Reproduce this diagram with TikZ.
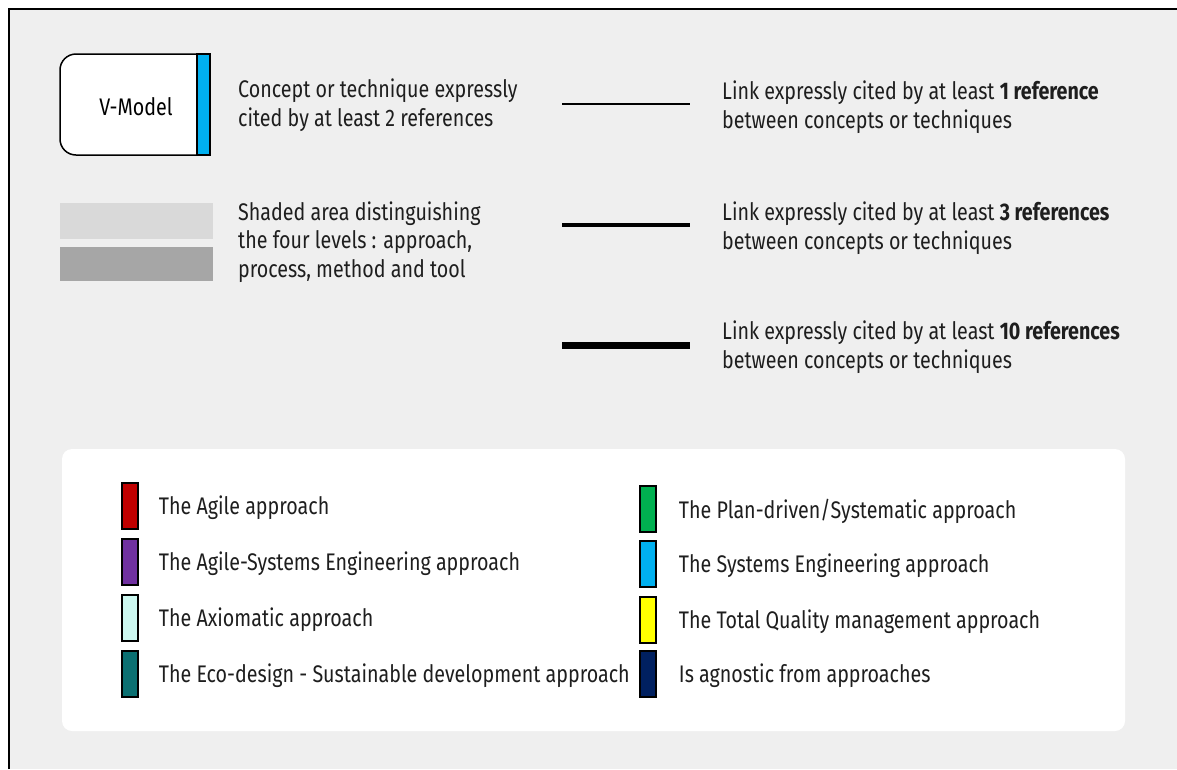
\documentclass[tikz,border=0pt]{standalone}
\usepackage{fontspec}
\setmainfont{Fira Sans}[FakeStretch=0.82]
\usepackage{xcolor}
\usetikzlibrary{positioning}

\definecolor{bggray}{HTML}{EFEFEF}
\definecolor{shadelight}{HTML}{D9D9D9}
\definecolor{shadedark}{HTML}{A6A6A6}
\definecolor{txtgray}{HTML}{1E1E1E}
\definecolor{agilered}{HTML}{C00000}
\definecolor{agilepurple}{HTML}{7030A0}
\definecolor{axiocyan}{HTML}{CCF8F0}
\definecolor{ecoteal}{HTML}{0B7072}
\definecolor{plangreen}{HTML}{00B050}
\definecolor{seblue}{HTML}{00B0F0}
\definecolor{tqyellow}{HTML}{FFFF00}
\definecolor{agnonavy}{HTML}{002060}

\tikzset{
  legtext/.style={anchor=west, align=left, inner sep=0pt, text=txtgray},
  swatch/.style={draw=black, line width=1.5pt, minimum width=16pt, minimum height=46pt, inner sep=0pt},
  boxline/.style={draw=black, line width=1.5pt}
}

\begin{document}
\begin{tikzpicture}[x=1pt,y=-1pt,font=\fontsize{24}{28.5}\selectfont]
\useasboundingbox (0,0) rectangle (1177,769);
% frame
\fill[white] (0,0) rectangle (1177,769);
\fill[bggray] (9,9) rectangle (1177,769);
\draw[line width=2.5pt] (9,769) -- (9,9) -- (1177,9);

% concept box
\coordinate (vmne) at (197,54);
\coordinate (vmsw) at (60,155);
\draw[boxline, fill=white, rounded corners=16pt] (vmne) -- (vmne -| vmsw) -- (vmsw) -- (vmsw -| vmne);
\draw[boxline, fill=seblue] (vmne) rectangle (210,155);
\node (vmodel) at (136,107) {V-Model};
\node (concept) [legtext] at (238,105) {Concept or technique expressly\\cited by at least 2 references};

% shaded areas
\fill[shadelight] (60,203) rectangle (213,239);
\fill[shadedark] (60,247) rectangle (213,281);
\node (shaded) [legtext] at (238,242) {Shaded area distinguishing\\the four levels : approach,\\process, method and tool};

% links
\draw[line width=2pt] (562,104) -- (690,104);
\draw[line width=4pt] (562,225) -- (690,225);
\draw[line width=7pt] (562,345) -- (690,345);
\node (link1) [legtext] at (722,107) {Link expressly cited by at least \textbf{1 reference}\\between concepts or techniques};
\node (link3) [legtext] at (722,228) {Link expressly cited by at least \textbf{3 references}\\between concepts or techniques};
\node (link10) [legtext] at (722,347) {Link expressly cited by at least \textbf{10 references}\\between concepts or techniques};

% approaches
\fill[white, rounded corners=10pt] (62,449) rectangle (1125,731);
\node (agile) [swatch, fill=agilered] at (130,506) {};
\node (agilese) [swatch, fill=agilepurple] at (130,562) {};
\node (axio) [swatch, fill=axiocyan] at (130,618) {};
\node (eco) [swatch, fill=ecoteal] at (130,674) {};
\node (plan) [swatch, fill=plangreen] at (648,509) {};
\node (se) [swatch, fill=seblue] at (648,564) {};
\node (tqm) [swatch, fill=tqyellow] at (648,620) {};
\node (agno) [swatch, fill=agnonavy] at (648,674) {};
\node [legtext, right=20pt of agile, yshift=-2pt] {The Agile approach};
\node [legtext, right=20pt of agilese, yshift=-2pt] {The Agile-Systems Engineering approach};
\node [legtext, right=20pt of axio, yshift=-2pt] {The Axiomatic approach};
\node [legtext, right=20pt of eco, yshift=-2pt] {The Eco-design - Sustainable development approach};
\node [legtext, right=22pt of plan, yshift=-2pt] {The Plan-driven/Systematic approach};
\node [legtext, right=22pt of se, yshift=-2pt] {The Systems Engineering approach};
\node [legtext, right=22pt of tqm, yshift=-2pt] {The Total Quality management approach};
\node [legtext, right=22pt of agno, yshift=-2pt] {Is agnostic from approaches};
\end{tikzpicture}
\end{document}
